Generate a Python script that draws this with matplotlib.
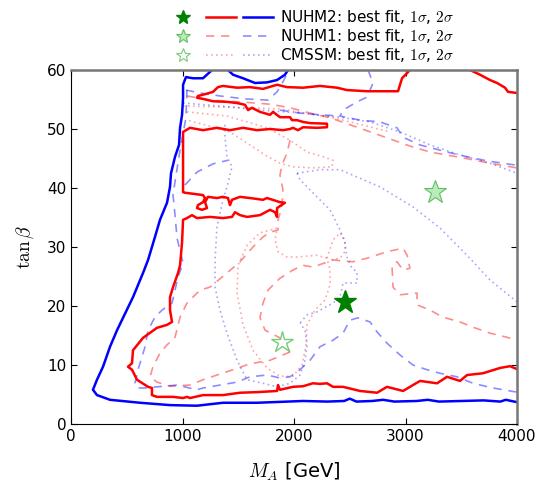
import matplotlib
matplotlib.use('Agg')
import matplotlib.pyplot as plt
from matplotlib.lines import Line2D
from matplotlib.legend_handler import HandlerTuple
import numpy as np

plt.rcParams['mathtext.fontset'] = 'cm'

# best fit points (M_A [GeV], tan beta)
nuhm2_best = (2457, 20.7)
nuhm1_best = (3265, 39.3)
cmssm_best = (1892, 13.9)

# NUHM2 2 sigma (solid blue), pieces of the contour clipped by the frame
nuhm2_2s_outer = np.array([
    (1265, 60.0), (1184, 58.6), (1094, 58.6), (1031, 58.8), (1005, 57.5), (1005, 55.3),
    (996, 52.4), (978, 50.2), (969, 47.3), (933, 45.3), (897, 42.5), (888, 40.2),
    (861, 37.5), (798, 34.6), (753, 31.7), (691, 27.8), (646, 25.6), (556, 21.5),
    (413, 15.9), (350, 13.1), (287, 9.7), (233, 7.5), (197, 5.8), (233, 4.9),
    (350, 4.1), (619, 3.6), (888, 3.2), (1130, 3.1), (1363, 3.6), (1668, 3.6),
    (2081, 3.9), (2300, 3.8), (2450, 3.9), (2500, 4.3), (2560, 3.8), (2700, 3.9),
    (2800, 4.1), (2900, 3.8), (3100, 3.9), (3200, 4.1), (3300, 3.8), (3500, 3.9),
    (3700, 4.0), (3850, 3.8), (3900, 4.1), (4000, 3.7)])
nuhm2_2s_top = np.array([
    (1408, 60.0), (1453, 59.2), (1543, 58.6), (1650, 57.8), (1758, 57.9),
    (1848, 58.3), (1919, 59.2), (1946, 60.0)])

# NUHM2 1 sigma (solid red)
nuhm2_1s_main = np.array([
    (3040, 60.0), (2969, 58.6), (2933, 56.4), (2655, 56.4), (2475, 56.6), (2386, 57.0),
    (2233, 57.3), (2081, 57.0), (1937, 57.1), (1848, 57.5), (1722, 56.8), (1605, 57.1),
    (1489, 57.0), (1363, 57.3), (1318, 57.1), (1274, 56.3), (1202, 55.9), (1139, 55.6),
    (1130, 55.3), (1184, 55.1), (1274, 54.7), (1399, 54.6), (1489, 54.4), (1561, 54.1),
    (1588, 53.2), (1623, 53.6), (1695, 52.9), (1785, 52.4), (1812, 52.9), (1874, 52.0),
    (1964, 52.0), (1982, 51.5), (2027, 51.5), (2081, 51.2), (2144, 51.0), (2296, 50.9),
    (2296, 50.3), (2206, 50.2), (2081, 50.3), (2036, 49.8), (1991, 50.2), (1964, 50.0),
    (1901, 49.8), (1785, 50.0), (1668, 49.8), (1543, 50.2), (1426, 49.8), (1309, 50.2),
    (1184, 49.8), (1067, 50.2), (1005, 49.5), (1005, 42.2), (1005, 39.3), (1022, 39.2),
    (1184, 38.8), (1202, 38.3), (1184, 37.6), (1139, 37.1), (1130, 36.6), (1175, 36.3),
    (1220, 36.6), (1202, 37.6), (1229, 38.5), (1309, 38.3), (1363, 38.5), (1408, 38.3),
    (1426, 37.1), (1444, 38.0), (1516, 38.5), (1605, 38.3), (1722, 38.0), (1758, 38.3),
    (1874, 37.6), (1919, 37.5), (1848, 36.6), (1848, 35.1), (1830, 35.9), (1785, 36.3),
    (1695, 35.4), (1579, 35.1), (1516, 35.4), (1471, 35.9), (1444, 35.1), (1363, 34.9),
    (1247, 35.1), (1130, 34.9), (1085, 35.4), (1040, 34.9), (1005, 34.6), (996, 30.8),
    (978, 26.9), (960, 25.6), (915, 23.2), (888, 21.5), (888, 19.3), (906, 17.3),
    (861, 16.8), (771, 16.3), (646, 14.6), (556, 12.5), (547, 10.3), (511, 9.7),
    (547, 9.2), (592, 7.5), (691, 6.3), (726, 6.1), (726, 4.9), (771, 4.6),
    (915, 4.6), (1005, 4.4), (1040, 4.6), (1067, 4.4), (1184, 4.9), (1363, 4.9),
    (1516, 5.3), (1668, 5.4), (1848, 5.6), (1857, 6.6), (1874, 5.8), (1991, 6.3),
    (2081, 6.4), (2170, 6.9), (2233, 6.8), (2296, 6.9), (2350, 6.3), (2440, 6.3),
    (2592, 5.6), (2745, 5.3), (2834, 6.3), (2978, 5.6), (3130, 7.3), (3283, 6.9),
    (3372, 8.0), (3489, 7.3), (3552, 8.3), (3695, 8.6), (3848, 9.5), (3937, 9.8),
    (4000, 9.3)])
nuhm2_1s_corner = np.array([
    (3579, 60.0), (3668, 59.2), (3758, 58.3), (3821, 57.8), (3893, 57.0),
    (3919, 56.3), (4000, 56.1)])

# NUHM1 2 sigma (dashed blue)
nuhm1_2s_a = np.array([
    (1031, 56.6), (1157, 56.1), (1336, 55.6), (1561, 55.1), (1767, 54.9),
    (1848, 56.3), (1901, 58.0), (1946, 59.7)])
nuhm1_2s_b = np.array([(1874, 53.2), (2054, 52.7), (2233, 52.4), (2413, 52.2)])
nuhm1_2s_c = np.array([
    (2664, 60.0), (2709, 57.8), (2655, 55.4), (2565, 54.6), (2440, 53.2), (2413, 52.2),
    (2592, 51.5), (2771, 51.2), (2924, 50.2), (2978, 48.6), (3130, 47.3), (3372, 46.1),
    (3552, 45.3), (3731, 44.6), (3982, 43.9), (4000, 43.7)])
nuhm1_2s_d = np.array([(1022, 40.5), (1130, 42.7), (1274, 44.1), (1408, 44.7)])
nuhm1_2s_e = np.array([
    (1040, 56.6), (1031, 51.9), (978, 46.4), (942, 42.2), (915, 38.8), (933, 35.4),
    (951, 31.5), (1005, 27.3), (960, 24.9), (933, 22.7), (906, 20.5), (816, 19.3),
    (753, 18.1), (691, 15.9), (664, 13.1), (637, 11.4), (601, 9.2), (574, 6.9),
    (592, 6.1), (664, 6.1), (771, 6.3), (951, 6.6), (1130, 5.8), (1184, 6.1),
    (1336, 6.6), (1489, 7.1), (1605, 8.0), (1758, 8.3), (1874, 7.8), (1964, 8.0),
    (2054, 9.2), (2144, 10.8), (2233, 13.1), (2350, 14.2), (2440, 15.4), (2502, 17.6),
    (2574, 18.0), (2682, 17.3), (2745, 15.6), (2834, 13.7), (2951, 11.7), (3067, 10.0),
    (3193, 9.2), (3310, 8.6), (3462, 8.0), (3606, 6.9), (3785, 6.1), (4000, 5.4)])

# NUHM1 1 sigma (dashed red)
nuhm1_1s_a = np.array([
    (1040, 55.6), (1247, 54.9), (1516, 54.6), (1785, 54.2), (1964, 53.6), (2144, 52.7),
    (2323, 51.9), (2565, 50.3), (2834, 48.5), (3040, 47.1), (3220, 46.1), (3516, 45.1),
    (3758, 44.2), (4000, 43.4)])
nuhm1_1s_b = np.array([
    (1964, 48.1), (1937, 45.9), (1892, 43.9), (1874, 42.2), (1901, 39.7), (1892, 36.8),
    (1857, 34.6), (1857, 32.9), (1785, 32.5), (1722, 31.7), (1632, 30.0), (1516, 27.5),
    (1399, 25.6), (1247, 23.2), (1157, 22.7), (1040, 20.5), (978, 18.1), (933, 14.7),
    (861, 13.4), (798, 12.0), (735, 9.7), (709, 8.0), (771, 7.1), (888, 6.4),
    (1067, 6.6), (1184, 7.5), (1309, 8.3), (1453, 9.2), (1605, 10.2), (1785, 10.8),
    (1964, 12.2)])
nuhm1_1s_c = np.array([
    (1964, 12.2), (1874, 14.6), (1740, 15.9), (1695, 18.0), (1722, 20.5), (1767, 22.7),
    (1874, 24.7), (1991, 26.1), (2081, 26.9), (2170, 26.6), (2350, 27.8), (2529, 27.5),
    (2655, 28.1), (2834, 29.2), (2978, 29.8), (3014, 28.6), (3040, 26.4), (2978, 26.1),
    (2924, 27.5), (2879, 26.8), (2888, 23.2), (2951, 21.9), (3103, 22.2), (3103, 20.2),
    (3220, 19.3), (3336, 18.1), (3489, 17.3), (3606, 16.4), (3758, 15.4), (3910, 14.7),
    (4000, 14.2)])

# CMSSM 2 sigma (dotted blue)
cmssm_2s_a = np.array([
    (1005, 54.4), (1336, 53.9), (1695, 53.2), (2054, 52.7), (2413, 52.0), (2682, 51.2),
    (2951, 49.5), (3220, 47.3), (3489, 45.6), (3758, 44.2), (4000, 42.5)])
cmssm_2s_b = np.array([
    (2027, 42.5), (2233, 43.1), (2413, 43.1), (2771, 40.2), (3067, 36.8), (3310, 33.2),
    (3552, 28.6), (3758, 24.4), (4000, 20.7)])
cmssm_2s_c = np.array([
    (2027, 42.5), (2054, 41.4), (2206, 38.5), (2323, 36.3), (2413, 32.9), (2457, 30.7),
    (2475, 28.3), (2520, 26.4), (2565, 25.8), (2565, 23.9), (2440, 23.9), (2413, 21.5),
    (2350, 20.5), (2206, 19.0), (2117, 18.5), (2054, 17.1)])
cmssm_2s_d = np.array([
    (1381, 50.7), (1381, 48.6), (1399, 45.3), (1444, 43.6), (1399, 40.2), (1363, 38.0),
    (1309, 33.4), (1292, 27.8), (1292, 23.2), (1336, 19.3), (1399, 15.4), (1489, 10.8),
    (1579, 7.5), (1722, 6.9), (1848, 6.3), (1964, 6.9), (2054, 8.3), (2099, 10.8),
    (2117, 13.4), (2099, 15.9), (2054, 17.1)])

# CMSSM 1 sigma (dotted red)
cmssm_1s_a = np.array([
    (1005, 53.9), (1426, 53.7), (1874, 53.4), (2323, 52.0), (2592, 50.8), (2861, 49.5)])
cmssm_1s_b = np.array([
    (1040, 52.9), (1399, 52.2), (1758, 50.2), (1964, 48.1), (2117, 46.1), (2260, 45.3),
    (2350, 44.7), (2341, 43.6), (2170, 43.4), (1991, 43.6), (1874, 44.2), (1740, 45.6),
    (1605, 47.3), (1426, 49.5), (1202, 50.7), (1040, 51.5)])
cmssm_1s_c = np.array([
    (1848, 33.2), (1695, 32.4), (1579, 30.3), (1498, 26.9), (1489, 22.2), (1543, 16.8),
    (1632, 12.5), (1758, 9.5), (1874, 8.1), (1991, 8.1), (2072, 10.0), (2108, 13.4),
    (2117, 16.8), (2188, 19.3), (2278, 21.0), (2323, 23.6), (2323, 26.1), (2296, 28.1),
    (2206, 28.6), (2027, 28.3), (1937, 28.3), (1857, 29.2), (1830, 31.2), (1848, 33.2)])
cmssm_1s_d = np.array([
    (2296, 28.1), (2350, 31.2), (2413, 32.4), (2457, 31.2), (2457, 29.2),
    (2413, 28.1), (2323, 27.8)])

fig = plt.figure(figsize=(5.4, 4.82), dpi=100)
ax = fig.add_axes([71 / 540, 58 / 482, 446 / 540, 354 / 482])

dash = (0, (5, 4))
dot = (0, (1, 2))

for seg in [cmssm_1s_a, cmssm_1s_b, cmssm_1s_c, cmssm_1s_d]:
    ax.plot(seg[:, 0], seg[:, 1], color='red', alpha=0.35, lw=1.2, ls=dot)
for seg in [cmssm_2s_a, cmssm_2s_b, cmssm_2s_c, cmssm_2s_d]:
    ax.plot(seg[:, 0], seg[:, 1], color='blue', alpha=0.35, lw=1.2, ls=dot)
for seg in [nuhm1_1s_a, nuhm1_1s_b, nuhm1_1s_c]:
    ax.plot(seg[:, 0], seg[:, 1], color='red', alpha=0.45, lw=1.2, ls=dash)
for seg in [nuhm1_2s_a, nuhm1_2s_b, nuhm1_2s_c, nuhm1_2s_d, nuhm1_2s_e]:
    ax.plot(seg[:, 0], seg[:, 1], color='blue', alpha=0.45, lw=1.2, ls=dash)
for seg in [nuhm2_1s_main, nuhm2_1s_corner]:
    ax.plot(seg[:, 0], seg[:, 1], color='red', lw=1.8)
for seg in [nuhm2_2s_outer, nuhm2_2s_top]:
    ax.plot(seg[:, 0], seg[:, 1], color='blue', lw=1.8)

# best fit stars
ax.plot(*cmssm_best, marker='*', ms=16, mfc='white', mec='#77cc77', mew=1, ls='none')
ax.plot(*nuhm1_best, marker='*', ms=17, mfc='#b8ecb8', mec='#66bb66', mew=0.8, ls='none')
ax.plot(*nuhm2_best, marker='*', ms=17, color='green', ls='none')

ax.set_xlim(0, 4000)
ax.set_ylim(0, 60)
ax.set_xticks([0, 1000, 2000, 3000, 4000])
ax.set_yticks([0, 10, 20, 30, 40, 50, 60])
ax.tick_params(direction='in', top=True, right=True, length=4, labelsize=11)
for side in ['top', 'right']:
    ax.spines[side].set_color('#777777')
    ax.spines[side].set_linewidth(1.8)
ax.set_xlabel(r'$M_A$ [GeV]', fontsize=14, labelpad=12)
ax.set_ylabel(r'$\tan\beta$', fontsize=14, labelpad=8)

# legend: star, 1 sigma line, 2 sigma line for each model
h2 = (Line2D([], [], marker='*', ms=10, color='green', ls='none'),
      Line2D([], [], color='red', lw=1.8),
      Line2D([], [], color='blue', lw=1.8))
h1 = (Line2D([], [], marker='*', ms=10, mfc='#b8ecb8', mec='#66bb66', mew=0.8, ls='none'),
      Line2D([], [], color='red', alpha=0.45, lw=1.2, ls=dash),
      Line2D([], [], color='blue', alpha=0.45, lw=1.2, ls=dash))
h0 = (Line2D([], [], marker='*', ms=10, mfc='white', mec='#77cc77', mew=0.8, ls='none'),
      Line2D([], [], color='red', alpha=0.35, lw=1.2, ls=dot),
      Line2D([], [], color='blue', alpha=0.35, lw=1.2, ls=dot))
labels = [r'NUHM2: best fit, $1\sigma$, $2\sigma$',
          r'NUHM1: best fit, $1\sigma$, $2\sigma$',
          r'CMSSM: best fit, $1\sigma$, $2\sigma$']
fig.legend([h2, h1, h0], labels, handler_map={tuple: HandlerTuple(ndivide=None, pad=0.5)},
           loc='upper left', bbox_to_anchor=(168 / 540, 1 - 8 / 482), frameon=False,
           fontsize=11, handlelength=6.9, handletextpad=0.4, labelspacing=0.08,
           borderpad=0, borderaxespad=0)

fig.savefig('out.png', dpi=100)
